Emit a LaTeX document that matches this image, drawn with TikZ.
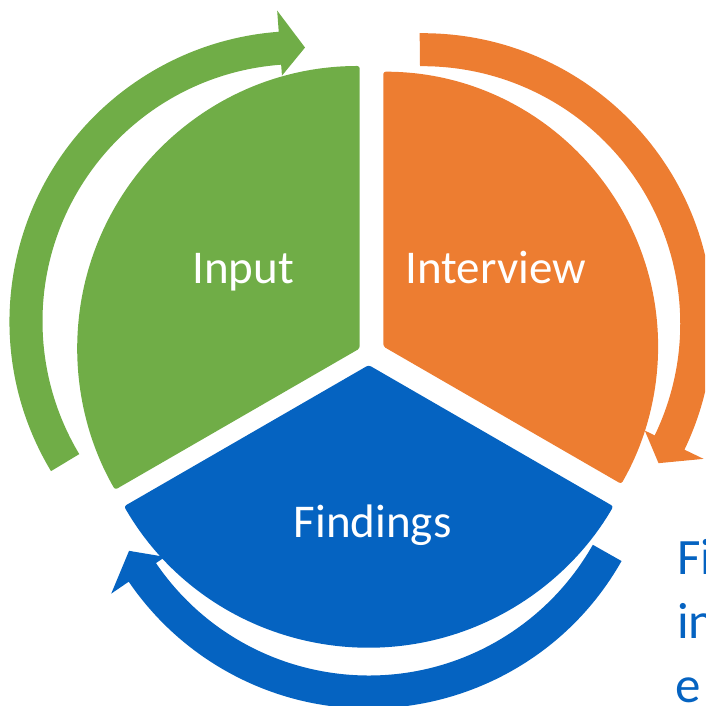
\documentclass[tikz,border=0pt]{standalone}
\usepackage{fontspec}
\setmainfont{Carlito}
\usetikzlibrary{calc}

\definecolor{segGreen}{HTML}{70AD47}
\definecolor{segOrange}{HTML}{ED7D31}
\definecolor{segBlue}{HTML}{0563C1}

% radii of the curved arrows: band, arrow head and tip
\def\arrOut{290.5}
\def\arrIn{257.5}
\def\headOut{311.7}
\def\headIn{246.5}
\def\arrMid{274}

% curved arrow running clockwise round centre #1:
% #2 tail angle, #3 angle of the head base, #4 tip angle, #5 colour
\newcommand\cyclearrow[5]{%
  \fill[#5] ($(#1)+(#2:\arrOut)$)
    arc[start angle=#2, end angle=#3, radius=\arrOut]
    -- ($(#1)+(#3:\headOut)$)
    -- ($(#1)+(#4:\arrMid)$)
    -- ($(#1)+(#3:\headIn)$)
    -- ($(#1)+(#3:\arrIn)$)
    arc[start angle=#3, end angle=#2, radius=\arrIn]
    -- cycle;}

\tikzset{
  segment/.style={rounded corners=2.5pt},
  seglabel/.style={text=white, font=\fontsize{47}{56}\selectfont, inner sep=0pt, anchor=base},
  sidetext/.style={text=segBlue, font=\fontsize{51}{62}\selectfont, inner sep=0pt, anchor=base west}
}

\begin{document}
\begin{tikzpicture}[x=1pt, y=1pt]
  \useasboundingbox (0,0) rectangle (705,706);
  \clip (0,0) rectangle (705,706);

  % apexes of the three segments and centres of the arrows
  \coordinate (gApex) at (359.7,357.5);
  \coordinate (oApex) at (383.3,359.5);
  \coordinate (bApex) at (368.7,340.9);
  \coordinate (gArc) at (300,384.5);
  \coordinate (oArc) at (422.7,382.3);
  \coordinate (bArc) at (368.7,288);

  % segments
  \fill[segGreen, segment] (gApex) -- ++(90:282.5)
    arc[start angle=90, end angle=210, radius=282.5] -- cycle;
  \fill[segOrange, segment] (oApex) -- ++(90:274.8)
    arc[start angle=90, end angle=-30, radius=274.8] -- cycle;
  \fill[segBlue, segment] (bApex) -- ++(210:282.5)
    arc[start angle=210, end angle=330, radius=282.5] -- cycle;

  % arrows around the segments
  \cyclearrow{gArc}{211}{94.2}{88.95}{segGreen}
  \cyclearrow{oArc}{90.6}{-25.7}{-30.6}{segOrange}
  \cyclearrow{bArc}{330.5}{214.3}{209}{segBlue}

  % labels
  \node[seglabel] (input) at (243.3,422.7) {Input};
  \node[seglabel] (interview) at (495.7,422.7) {Interview};
  \node[seglabel] (findings) at (372.7,168.7) {Findings};

  % text at the right border
  \node[sidetext] (side1) at (677,131) {Fi};
  \node[sidetext] (side2) at (677,67.7) {in};
  \node[sidetext] (side3) at (675,3.3) {e};
\end{tikzpicture}
\end{document}
